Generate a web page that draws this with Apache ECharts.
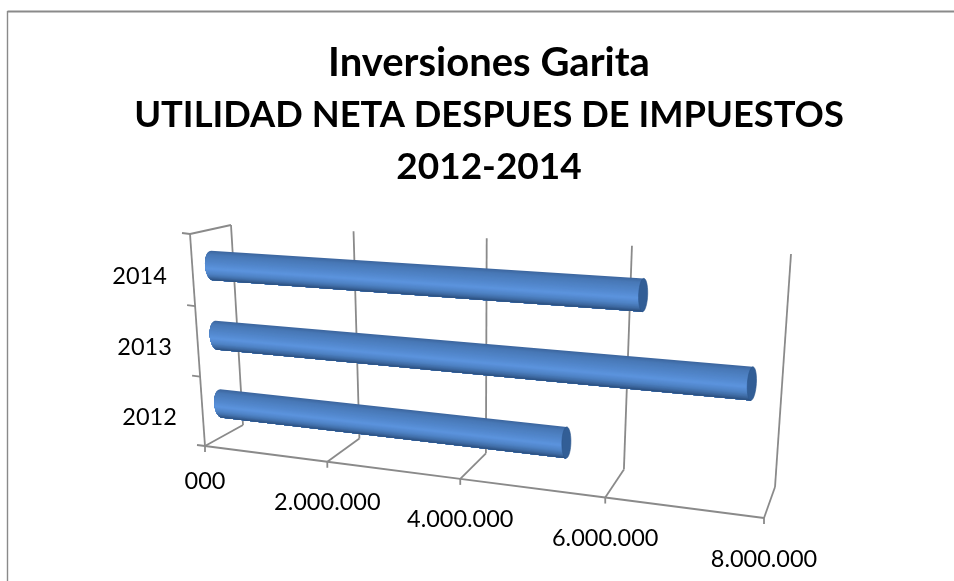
<!DOCTYPE html>
<html>
<head>
<meta charset="utf-8">
<style>html,body{margin:0;padding:0;background:#fff}#c{width:954px;height:581px}</style>
<script src="https://cdn.jsdelivr.net/npm/echarts@6/dist/echarts.min.js"></script>
</head>
<body>
<div id="c"></div>
<script>
const titleLines = ['Inversiones Garita', 'UTILIDAD NETA DESPUES DE IMPUESTOS', '2012-2014'];
const categories = ['2012', '2013', '2014'];
const utilidad = [5350000, 7700000, 6300000];
const valueTicks = [0, 2000000, 4000000, 6000000, 8000000];
const valueTickLabels = ['000', '2.000.000', '4.000.000', '6.000.000', '8.000.000'];

// Box of the 3D view on the page (screen positions of its corners), not data.
const BOX = {
  f00: [205, 446], f10: [764, 518], f01: [190, 234], f11: [781, 270],
  b00: [243, 425], b10: [775, 487], b01: [231, 225], b11: [791, 254]
};
const WARP_U = 1.19, WARP_H = 1.03, BAR_DEPTH = 0.42, BAR_FRAC = 0.42;
const GRID = { left: 100, top: 100, width: 700, height: 300 };
const GRAY = '#8a8a8a', FONT = 'Lato, Carlito, sans-serif', TXT = '#000000';

const warp = (t, k) => t / (t + k * (1 - t));
const mix = (a, b, t) => [a[0] + (b[0] - a[0]) * t, a[1] + (b[1] - a[1]) * t];
function project(u, h, d) {
  const U = warp(u, WARP_U), H = warp(h, WARP_H);
  const f = mix(mix(BOX.f00, BOX.f10, U), mix(BOX.f01, BOX.f11, U), H);
  const b = mix(mix(BOX.b00, BOX.b10, U), mix(BOX.b01, BOX.b11, U), H);
  return mix(f, b, d);
}
const toU = px => (px[0] - GRID.left) / GRID.width;
const toH = px => (GRID.top + GRID.height - px[1]) / GRID.height;

function line(a, b, w) {
  return { type: 'line', shape: { x1: a[0], y1: a[1], x2: b[0], y2: b[1] },
    style: { stroke: GRAY, lineWidth: w || 1.8 }, silent: true };
}
function label(text, p) {
  return { type: 'text', x: p[0], y: p[1], silent: true,
    style: { text, fill: TXT, font: '23.5px ' + FONT, align: 'center', verticalAlign: 'middle' } };
}

function renderValueTick(params, api) {
  const v = api.value(0), i = params.dataIndex;
  const u = toU(api.coord([v, 0]));
  const front = project(u, 0, 0), back = project(u, 0, 1), top = project(u, 1, 1);
  const children = [
    line(front, back), line(back, top),
    line(front, [front[0], front[1] + 6]),
    label(valueTickLabels[i], [front[0], front[1] + (i === 0 ? 35 : 41)])
  ];
  if (i < valueTicks.length - 1) {
    const next = project(toU(api.coord([valueTicks[i + 1], 0])), 0, 0);
    children.push(line(front, next, 2));
  }
  if (i === 0) {
    const ft = project(u, 1, 0);
    children.push(line(front, ft), line(ft, top));
  }
  return { type: 'group', children };
}

function renderCategory(params, api) {
  const c = api.coord([0, params.dataIndex]);
  const band = api.size([0, 1])[1] / GRID.height;
  const h = toH(c);
  const tick = hh => { const p = project(0, hh, 0); return line(p, [p[0] - 8, p[1] - 1]); };
  const children = [tick(h + band / 2)];
  if (params.dataIndex === 0) children.push(tick(h - band / 2));
  const mid = project(0, h, 0);
  children.push(label(categories[params.dataIndex], [mid[0] - 53, mid[1] + 6]));
  return { type: 'group', children };
}

// Colour of the cylinder across its width: t = -1 top edge, t = 1 bottom edge.
const SHADE = [[-1, [60, 102, 158]], [-0.75, [72, 120, 182]], [-0.1, [84, 138, 208]], [0.2, [92, 148, 222]],
               [0.55, [78, 130, 196]], [0.8, [62, 106, 162]], [1, [42, 78, 126]]];
function shade(t) {
  for (let i = 1; i < SHADE.length; i++) {
    if (t <= SHADE[i][0]) {
      const a = SHADE[i - 1], b = SHADE[i], s = (t - a[0]) / (b[0] - a[0]);
      return 'rgb(' + a[1].map((x, j) => Math.round(x + (b[1][j] - x) * s)).join(',') + ')';
    }
  }
  return 'rgb(42,78,126)';
}

function renderBar(params, api) {
  const val = api.value(0), cat = params.dataIndex;
  const u1 = toU(api.coord([val, cat])), u0 = toU(api.coord([0, cat]));
  const h = toH(api.coord([0, cat]));
  const r = api.size([0, 1])[1] / GRID.height * BAR_FRAC / 2;
  const at = (u, t) => project(u, h - t * r, BAR_DEPTH);
  const children = [];
  const N = 30, LEFT_RX = 7, LEFT_SHIFT = 2.5, RIGHT_RX = 4.5;
  for (let i = 0; i < N; i++) {
    const t0 = -1 + 2 * i / N, tm = t0 + 1 / N, k = 24;
    // each strip is painted from its own top edge down to the bottom edge, so later strips overlap it
    const th0 = Math.asin(t0), pts = [at(u1, t0), at(u1, 1)];
    for (let j = k; j >= 0; j--) {
      const th = th0 + (Math.PI / 2 - th0) * j / k, t = Math.sin(th), p = at(u0, t);
      pts.push([p[0] + LEFT_SHIFT - LEFT_RX * Math.cos(th), p[1]]);
    }
    children.push({ type: 'polygon', silent: true, shape: { points: pts }, style: { fill: shade(tm) } });
  }
  // end cap
  const top = at(u1, -1), bot = at(u1, 1), cap = [];
  for (let i = 0; i < 40; i++) {
    const th = i / 40 * Math.PI * 2, tt = Math.sin(th), p = mix(top, bot, (tt + 1) / 2);
    cap.push([p[0] + RIGHT_RX * Math.cos(th), p[1]]);
  }
  children.push({ type: 'polygon', silent: true, shape: { points: cap },
    style: { fill: '#325e96', stroke: '#2c568c', lineWidth: 0.6 } });
  return { type: 'group', children };
}

const chart = echarts.init(document.getElementById('c'), null, { renderer: 'canvas' });
chart.setOption({
  animation: false,
  backgroundColor: '#ffffff',
  title: {
    text: '{a|' + titleLines[0] + '}\n{b|' + titleLines[1] + '}\n{c|' + titleLines[2] + '}',
    left: 484, top: 32, textAlign: 'center',
    textStyle: {
      fontFamily: FONT, fontWeight: 'bold', color: TXT,
      rich: {
        a: { fontFamily: FONT, fontWeight: 'bold', fontSize: 40, lineHeight: 52, color: TXT },
        b: { fontFamily: FONT, fontWeight: 'bold', fontSize: 36.3, lineHeight: 52, color: TXT },
        c: { fontFamily: FONT, fontWeight: 'bold', fontSize: 37, lineHeight: 52, color: TXT }
      }
    }
  },
  grid: GRID,
  xAxis: { type: 'value', min: 0, max: 8000000, interval: 2000000, show: false },
  yAxis: { type: 'category', data: categories, show: false },
  graphic: [
    { type: 'line', silent: true, z: 0, shape: { x1: 7.5, y1: 11.5, x2: 954, y2: 11.5 }, style: { stroke: GRAY, lineWidth: 2 } },
    { type: 'line', silent: true, z: 0, shape: { x1: 7.5, y1: 11, x2: 7.5, y2: 581 }, style: { stroke: GRAY, lineWidth: 1.4 } }
  ],
  series: [
    { type: 'custom', name: 'valueAxis', coordinateSystem: 'cartesian2d', silent: true, z: 1, clip: false,
      encode: { x: 0, y: 1 }, data: valueTicks.map(v => [v, 0]), renderItem: renderValueTick },
    { type: 'custom', name: 'categoryAxis', coordinateSystem: 'cartesian2d', silent: true, z: 1, clip: false,
      encode: { x: 0, y: 1 }, data: categories.map((c, i) => [0, i]), renderItem: renderCategory },
    { type: 'custom', name: 'Utilidad', coordinateSystem: 'cartesian2d', silent: true, z: 2, clip: false,
      encode: { x: 0, y: 1 }, data: utilidad.map((v, i) => [v, i]), renderItem: renderBar }
  ]
});
</script>
</body>
</html>
